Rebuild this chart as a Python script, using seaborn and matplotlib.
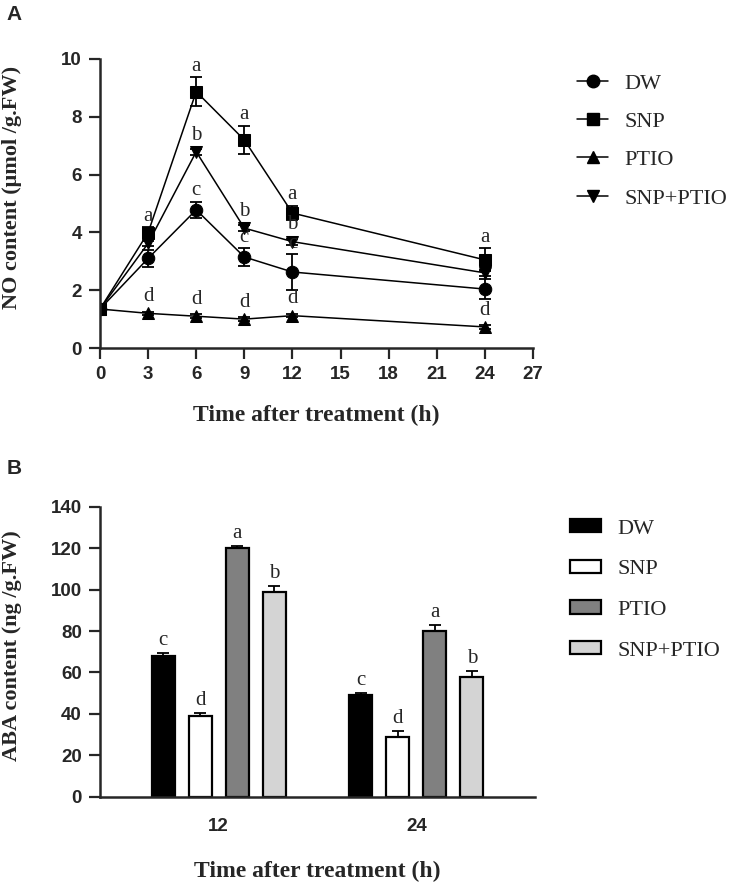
import pandas as pd
import matplotlib
matplotlib.use("Agg")
import matplotlib.pyplot as plt
import seaborn as sns
from matplotlib.lines import Line2D

# treatments and sampling times
treatments = ["DW", "SNP", "PTIO", "SNP+PTIO"]
hours = [0, 3, 6, 9, 12, 24]

# NO content (umol/g FW), panel A
no_dw = [1.35, 3.10, 4.78, 3.15, 2.63, 2.04]
no_snp = [1.35, 3.99, 8.87, 7.20, 4.67, 3.05]
no_ptio = [1.35, 1.20, 1.10, 1.00, 1.12, 0.73]
no_snp_ptio = [1.35, 3.62, 6.79, 4.15, 3.68, 2.60]

no_dw_err = [0.05, 0.30, 0.28, 0.30, 0.62, 0.35]
no_snp_err = [0.05, 0.20, 0.50, 0.49, 0.25, 0.40]
no_ptio_err = [0.05, 0.06, 0.06, 0.06, 0.06, 0.06]
no_snp_ptio_err = [0.05, 0.10, 0.10, 0.10, 0.10, 0.10]

no_dw_letters = ["", "", "c", "c", "c", ""]
no_snp_letters = ["", "a", "a", "a", "a", "a"]
no_ptio_letters = ["", "d", "d", "d", "d", "d"]
no_snp_ptio_letters = ["", "", "b", "b", "b", ""]

# ABA content (ng/g FW), panel B
aba_times = ["12", "24"]
aba_dw = [68, 49]
aba_snp = [39, 29]
aba_ptio = [120, 80]
aba_snp_ptio = [99, 58]

aba_dw_err = [1.6, 1.3]
aba_snp_err = [1.3, 2.6]
aba_ptio_err = [1.0, 3.0]
aba_snp_ptio_err = [2.6, 2.7]

aba_dw_letters = ["c", "c"]
aba_snp_letters = ["d", "d"]
aba_ptio_letters = ["a", "a"]
aba_snp_ptio_letters = ["b", "b"]

no_means = [no_dw, no_snp, no_ptio, no_snp_ptio]
no_errs = [no_dw_err, no_snp_err, no_ptio_err, no_snp_ptio_err]
no_letters = [no_dw_letters, no_snp_letters, no_ptio_letters, no_snp_ptio_letters]
aba_means = [aba_dw, aba_snp, aba_ptio, aba_snp_ptio]
aba_errs = [aba_dw_err, aba_snp_err, aba_ptio_err, aba_snp_ptio_err]
aba_letters = [aba_dw_letters, aba_snp_letters, aba_ptio_letters, aba_snp_ptio_letters]

df_no = pd.DataFrame([
    {"treatment": t, "hour": h, "no": v}
    for t, vals in zip(treatments, no_means) for h, v in zip(hours, vals)
])
df_aba = pd.DataFrame([
    {"treatment": t, "time": tm, "aba": v}
    for t, vals in zip(treatments, aba_means) for tm, v in zip(aba_times, vals)
])

sns.set_style("ticks")
plt.rcParams["font.family"] = ["Liberation Sans", "DejaVu Sans"]
plt.rcParams["axes.linewidth"] = 1.8

serif = ["Liberation Serif", "DejaVu Serif"]
marker_map = {"DW": "o", "SNP": "s", "PTIO": "^", "SNP+PTIO": "v"}
bar_colors = ["#000000", "#ffffff", "#808080", "#d4d4d4"]

fig = plt.figure(figsize=(7.39, 8.91), dpi=100)
ax1 = fig.add_axes([0.1353, 0.6094, 0.5859, 0.3244])
ax2 = fig.add_axes([0.1353, 0.1058, 0.5886, 0.3255])

# ---- Panel A: NO content line chart
sns.lineplot(data=df_no, x="hour", y="no", hue="treatment", style="treatment",
             hue_order=treatments, style_order=treatments,
             markers=marker_map, dashes=False, palette=["black"] * 4,
             markersize=9, linewidth=1.1, markeredgecolor="black",
             legend=False, ax=ax1)
for vals, errs, lets in zip(no_means, no_errs, no_letters):
    ax1.errorbar(hours, vals, yerr=errs, fmt="none", ecolor="black",
                 elinewidth=1.3, capsize=4, capthick=1.3)
    for h, v, e, l in zip(hours, vals, errs, lets):
        if l:
            ax1.annotate(l, (h, v + max(e, 0.2)), xytext=(0, 1), textcoords="offset points",
                         ha="center", va="bottom", fontsize=15, family=serif)

ax1.set_xlim(0, 27)
ax1.set_ylim(0, 10)
ax1.set_xticks(range(0, 28, 3))
ax1.set_yticks(range(0, 11, 2))
ax1.set_xlabel("Time after treatment (h)", fontsize=17, fontweight="bold", family=serif, labelpad=16)
ax1.set_ylabel("NO content (\u03bcmol /g.FW)", fontsize=16, fontweight="bold", family=serif)
ax1.yaxis.set_label_coords(-0.18, 0.555)
ax1.tick_params(axis="both", length=8, width=1.6, labelsize=13.5, pad=5)
for lab in ax1.get_xticklabels() + ax1.get_yticklabels():
    lab.set_fontweight("bold")

handles = [Line2D([], [], color="black", marker=marker_map[t], markersize=9, linewidth=1.1)
           for t in treatments]
ax1.legend(handles, treatments, loc="upper left", bbox_to_anchor=(577 / 739, 1 - 73 / 891),
           bbox_transform=fig.transFigure, frameon=False, prop={"family": serif, "size": 16},
           handlelength=1.4, handletextpad=0.75, labelspacing=0.8, borderpad=0, borderaxespad=0)

# ---- Panel B: ABA content bar chart
sns.barplot(data=df_aba, x="time", y="aba", hue="treatment", hue_order=treatments,
            order=aba_times, palette=bar_colors, edgecolor="black", linewidth=1.6,
            width=0.75, gap=0.38, errorbar=None, ax=ax2)
for cont, errs, lets in zip(ax2.containers, aba_errs, aba_letters):
    for rect, e, l in zip(cont, errs, lets):
        x = rect.get_x() + rect.get_width() / 2
        h = rect.get_height()
        ax2.errorbar([x], [h], yerr=[[0], [e]], fmt="none", ecolor="black",
                     elinewidth=1.3, capsize=4, capthick=1.3)
        ax2.annotate(l, (x, h + e), xytext=(0, 2), textcoords="offset points",
                     ha="center", va="bottom", fontsize=15, family=serif)

ax2.set_xlim(-0.6, 1.6)
ax2.set_ylim(0, 140)
ax2.set_yticks(range(0, 141, 20))
ax2.set_xlabel("Time after treatment (h)", fontsize=17, fontweight="bold", family=serif, labelpad=19)
ax2.set_ylabel("ABA content (ng /g.FW)", fontsize=16, fontweight="bold", family=serif)
ax2.yaxis.set_label_coords(-0.18, 0.52)
ax2.tick_params(axis="y", length=8, width=1.6, labelsize=13.5, pad=5)
ax2.tick_params(axis="x", length=0, labelsize=13.5, pad=15)
for lab in ax2.get_xticklabels() + ax2.get_yticklabels():
    lab.set_fontweight("bold")

h2, l2 = ax2.get_legend_handles_labels()
ax2.legend(h2, l2, loc="upper left", bbox_to_anchor=(570 / 739, 1 - 519 / 891),
           bbox_transform=fig.transFigure, frameon=False, prop={"family": serif, "size": 16},
           handlelength=1.4, handleheight=0.55, handletextpad=0.75, labelspacing=0.95,
           borderpad=0, borderaxespad=0)

sns.despine(fig=fig)

fig.text(0.009, 0.984, "A", fontsize=15, fontweight="bold", va="center")
fig.text(0.009, 0.4747, "B", fontsize=15, fontweight="bold", va="center")

fig.savefig("out.png", dpi=100)
